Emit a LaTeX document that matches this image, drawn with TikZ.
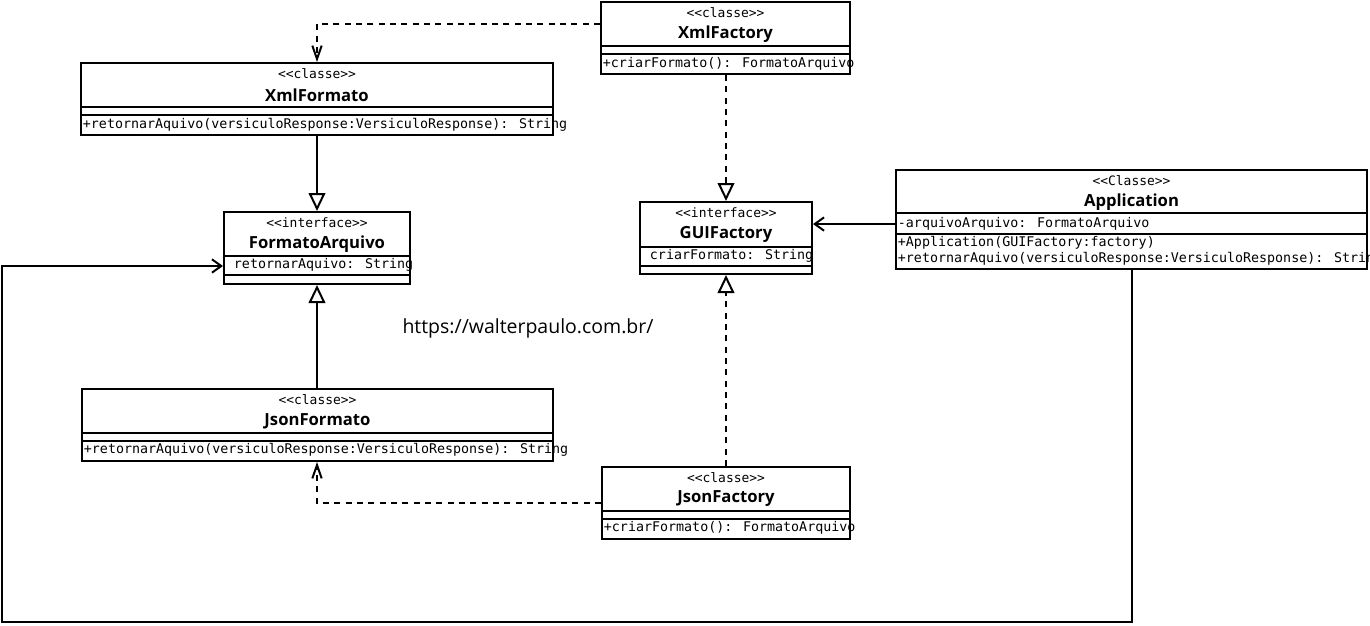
\documentclass[tikz,border=0pt]{standalone}
\usepackage{fontspec}
\setmainfont{Open Sans}
\newfontfamily\umlmono{DejaVu Sans Mono}
\usetikzlibrary{arrows.meta, positioning, fit}

\tikzset{
  umlbox/.style={draw, line width=1.5pt, inner sep=0pt},
  sepline/.style={line width=1.5pt},
  stereo/.style={font=\umlmono\fontsize{9.7}{11}\selectfont, inner sep=0pt},
  umlname/.style={font=\bfseries\fontsize{12.5}{14}\selectfont, inner sep=0pt},
  member/.style={font=\umlmono\fontsize{10}{12}\selectfont, inner sep=0pt, anchor=west, xshift=2pt},
  solidline/.style={line width=1.5pt},
  dashline/.style={line width=1.5pt, dash pattern=on 4.5pt off 4pt},
  openhead/.style={-{Straight Barb[length=7pt, width=10pt, line width=1.5pt]}},
  dephead/.style={-{Straight Barb[length=10pt, width=7pt, line width=1.5pt]}},
  trihead/.style={-{Triangle[open, length=13.5pt, width=12.5pt, line width=1.5pt, fill=white]}}
}

\begin{document}
\begin{tikzpicture}[x=0.75pt, y=-0.75pt]
  \useasboundingbox (0,0) rectangle (1370,625);

  \node[umlbox, fit={(601,2) (850,74)}] (xmlfactory) {};
  \node[umlbox, fit={(81,63) (553,135)}] (xmlformato) {};
  \node[umlbox, fit={(224,212) (410,284)}] (formatoarquivo) {};
  \node[umlbox, fit={(640,202) (812,274)}] (guifactory) {};
  \node[umlbox, fit={(896,170) (1367,269)}] (application) {};
  \node[umlbox, fit={(82,389) (553,461)}] (jsonformato) {};
  \node[umlbox, fit={(602,467) (850,539)}] (jsonfactory) {};

  \draw[sepline] (xmlfactory.west |- 0,46) -- (xmlfactory.east |- 0,46);
  \draw[sepline] (xmlfactory.west |- 0,54) -- (xmlfactory.east |- 0,54);
  \draw[sepline] (xmlformato.west |- 0,107) -- (xmlformato.east |- 0,107);
  \draw[sepline] (xmlformato.west |- 0,115) -- (xmlformato.east |- 0,115);
  \draw[sepline] (formatoarquivo.west |- 0,256) -- (formatoarquivo.east |- 0,256);
  \draw[sepline] (formatoarquivo.west |- 0,275) -- (formatoarquivo.east |- 0,275);
  \draw[sepline] (guifactory.west |- 0,247) -- (guifactory.east |- 0,247);
  \draw[sepline] (guifactory.west |- 0,266) -- (guifactory.east |- 0,266);
  \draw[sepline] (application.west |- 0,213) -- (application.east |- 0,213);
  \draw[sepline] (application.west |- 0,234) -- (application.east |- 0,234);
  \draw[sepline] (jsonformato.west |- 0,433) -- (jsonformato.east |- 0,433);
  \draw[sepline] (jsonformato.west |- 0,441) -- (jsonformato.east |- 0,441);
  \draw[sepline] (jsonfactory.west |- 0,511) -- (jsonfactory.east |- 0,511);
  \draw[sepline] (jsonfactory.west |- 0,519) -- (jsonfactory.east |- 0,519);

  \node[stereo] (xfstereo) at (xmlfactory.north |- 0,13) {\textless\textless classe\textgreater\textgreater};
  \node[umlname] (xftitle) at (xmlfactory.north |- 0,34) {XmlFactory};
  \node[member] (xfmethod) at (xmlfactory.west |- 0,64) {+criarFormato(): FormatoArquivo};

  \node[stereo] (xmstereo) at (xmlformato.north |- 0,74) {\textless\textless classe\textgreater\textgreater};
  \node[umlname] (xmtitle) at (xmlformato.north |- 0,95) {XmlFormato};
  \node[member] (xmmethod) at (xmlformato.west |- 0,125) {+retornarAquivo(versiculoResponse:VersiculoResponse): String};

  \node[stereo] (fastereo) at (formatoarquivo.north |- 0,223) {\textless\textless interface\textgreater\textgreater};
  \node[umlname] (fatitle) at (formatoarquivo.north |- 0,244) {FormatoArquivo};
  \node[member] (faattr) at (formatoarquivo.west |- 0,265) {\ retornarAquivo: String};

  \node[stereo] (gfstereo) at (guifactory.north |- 0,213) {\textless\textless interface\textgreater\textgreater};
  \node[umlname] (gftitle) at (guifactory.north |- 0,234) {GUIFactory};
  \node[member] (gfattr) at (guifactory.west |- 0,256) {\ criarFormato: String};

  \node[stereo] (apstereo) at (application.north |- 0,181) {\textless\textless Classe\textgreater\textgreater};
  \node[umlname] (aptitle) at (application.north |- 0,202) {Application};
  \node[member] (apattr) at (application.west |- 0,224) {-arquivoArquivo: FormatoArquivo};
  \node[member] (apmethod1) at (application.west |- 0,243) {+Application(GUIFactory:factory)};
  \node[member] (apmethod2) at (application.west |- 0,259) {+retornarAquivo(versiculoResponse:VersiculoResponse): String};

  \node[stereo] (jmstereo) at (jsonformato.north |- 0,400) {\textless\textless classe\textgreater\textgreater};
  \node[umlname] (jmtitle) at (jsonformato.north |- 0,421) {JsonFormato};
  \node[member] (jmmethod) at (jsonformato.west |- 0,450) {+retornarAquivo(versiculoResponse:VersiculoResponse): String};

  \node[stereo] (jfstereo) at (jsonfactory.north |- 0,478) {\textless\textless classe\textgreater\textgreater};
  \node[umlname] (jftitle) at (jsonfactory.north |- 0,499) {JsonFactory};
  \node[member] (jfmethod) at (jsonfactory.west |- 0,528) {+criarFormato(): FormatoArquivo};

  \node[font=\fontsize{14.6}{17}\selectfont, inner sep=0pt] (site) at (528,328) {https://walterpaulo.com.br/};

  \coordinate (xfout) at ([yshift=10.5pt]xmlfactory.west);
  \coordinate (apout) at ([yshift=-3.4pt]application.west);
  \coordinate (fain) at ([yshift=-13.5pt]formatoarquivo.west);
  \coordinate (loopcorner) at (2,622);

  \draw[dashline, dephead] (xfout) -| (xmlformato.north);
  \draw[solidline, trihead] (xmlformato.south) -- (formatoarquivo.north);
  \draw[solidline, trihead] (jsonformato.north -| formatoarquivo.south) -- (formatoarquivo.south);
  \draw[dashline, dephead] (jsonfactory.west) -| (jsonformato.south -| formatoarquivo.south);
  \draw[dashline, trihead] (xmlfactory.south -| guifactory.north) -- (guifactory.north);
  \draw[dashline, trihead] (jsonfactory.north) -- (guifactory.south);
  \draw[solidline, openhead] (apout) -- (apout -| guifactory.east);
  \draw[solidline, openhead] (application.south) |- (loopcorner) |- (fain);
\end{tikzpicture}
\end{document}
